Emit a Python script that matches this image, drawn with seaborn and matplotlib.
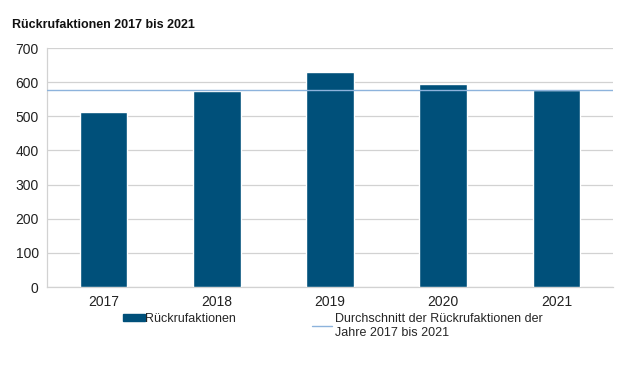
import seaborn as sns
import matplotlib.pyplot as plt
from matplotlib.patches import Patch
from matplotlib.lines import Line2D

# Data
years = ["2017", "2018", "2019", "2020", "2021"]
recalls = [514, 574, 630, 596, 577]
bar_label = "Rückrufaktionen"
avg_label = "Durchschnitt der Rückrufaktionen der\nJahre 2017 bis 2021"
title = "Rückrufaktionen 2017 bis 2021"

bar_color = "#00507a"
avg_color = "#8db3dc"
grid_color = "#d2d2d2"

sns.set_style("white")
plt.rcParams["font.family"] = ["Liberation Sans", "DejaVu Sans"]

fig = plt.figure(figsize=(6.3, 3.78), dpi=100)
ax = fig.add_axes([0.0746, 0.2407, 0.8984, 0.6323])

sns.barplot(x=years, y=recalls, color=bar_color, width=0.42,
            saturation=1, ax=ax, zorder=3)

avg = sum(recalls) / len(recalls)
ax.axhline(avg, color=avg_color, linewidth=1.0, zorder=4)

ax.set_ylim(0, 700)
ax.set_yticks(range(0, 701, 100))
ax.set_xlim(-0.5, len(years) - 0.5)
ax.yaxis.grid(True, color=grid_color, linewidth=0.9, zorder=0)
ax.set_axisbelow(True)

# ticks on the x axis sit between the categories
ax.set_xticks([i - 0.5 for i in range(len(years) + 1)], minor=True)
ax.tick_params(axis="x", which="minor", length=4, color=grid_color, width=0.9)
ax.tick_params(axis="x", which="major", length=0, pad=6)
ax.tick_params(axis="both", labelsize=10, labelcolor="#222222")
ax.tick_params(axis="y", length=0, pad=6)

for side in ["top", "right"]:
    ax.spines[side].set_visible(False)
for side in ["left", "bottom"]:
    ax.spines[side].set_color(grid_color)
    ax.spines[side].set_linewidth(0.9)

ax.set_xlabel("")
ax.set_ylabel("")

fig.text(0.019, 0.925, title, fontsize=9, fontweight="bold", color="#111111")

# legend
fig.legend(handles=[Patch(color=bar_color, label=bar_label)],
           loc="upper left", bbox_to_anchor=(0.195, 0.172), frameon=False,
           fontsize=9, handlelength=1.75, handleheight=0.5, handletextpad=0.05,
           borderpad=0, borderaxespad=0)
fig.legend(handles=[Line2D([], [], color=avg_color, linewidth=1.0, label=avg_label)],
           loc="upper left", bbox_to_anchor=(0.495, 0.172), frameon=False,
           fontsize=9, handlelength=1.6, handletextpad=0.25,
           borderpad=0, borderaxespad=0)

plt.savefig("out.png", dpi=100)
